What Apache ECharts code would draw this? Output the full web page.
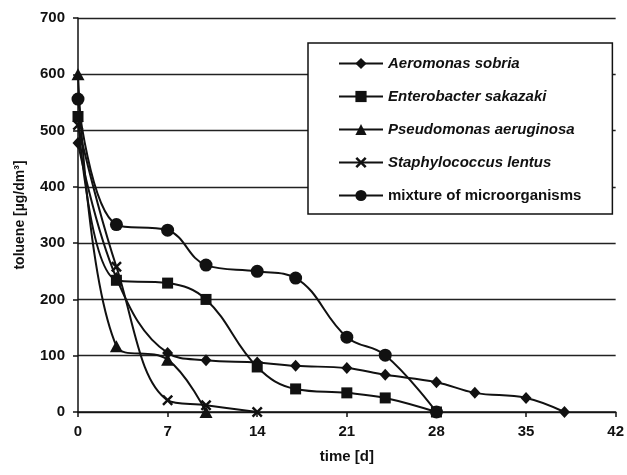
<!DOCTYPE html>
<html>
<head>
<meta charset="utf-8">
<script src="https://cdn.jsdelivr.net/npm/echarts@6/dist/echarts.min.js"></script>
<style>
html,body{margin:0;padding:0;background:#fff;}
#c{width:627px;height:475px;}
</style>
</head>
<body>
<div id="c"></div>
<script>
var xTicks = [0, 7, 14, 21, 28, 35, 42];
var yTicks = [0, 100, 200, 300, 400, 500, 600, 700];

var seriesNames = ['Aeromonas sobria', 'Enterobacter sakazaki', 'Pseudomonas aeruginosa', 'Staphylococcus lentus', 'mixture of microorganisms'];

var aeromonasDays = [0, 3, 7, 10, 14, 17, 21, 24, 28, 31, 35, 38];
var aeromonasVals = [478, 238, 105, 92, 88, 82, 78, 66, 53, 34, 25, 0];

var enterobacterDays = [0, 3, 7, 10, 14, 17, 21, 24, 28];
var enterobacterVals = [525, 234, 229, 200, 80, 41, 34, 25, 0];

var pseudomonasDays = [0, 3, 7, 10];
var pseudomonasVals = [600, 117, 93, 0];

var staphDays = [0, 3, 7, 10, 14];
var staphVals = [510, 258, 21, 12, 0];

var mixtureDays = [0, 3, 7, 10, 14, 17, 21, 24, 28];
var mixtureVals = [556, 333, 323, 261, 250, 238, 133, 101, 0];

function pairs(xs, ys) { return xs.map(function (x, i) { return [x, ys[i]]; }); }

var xPath = 'path://M0,1.6L1.6,0L5,3.4L8.4,0L10,1.6L6.6,5L10,8.4L8.4,10L5,6.6L1.6,10L0,8.4L3.4,5Z';

var symbols = ['diamond', 'rect', 'triangle', xPath, 'circle'];
var sizes = [[11, 12], 11, [13, 12], 11, 13];
var datasets = [
  pairs(aeromonasDays, aeromonasVals),
  pairs(enterobacterDays, enterobacterVals),
  pairs(pseudomonasDays, pseudomonasVals),
  pairs(staphDays, staphVals),
  pairs(mixtureDays, mixtureVals)
];

var series = seriesNames.map(function (n, i) {
  return {
    name: n,
    type: 'line',
    data: datasets[i],
    smooth: 0.4,
    symbol: symbols[i],
    symbolSize: sizes[i],
    showAllSymbol: true,
    lineStyle: { color: '#111', width: 2 },
    itemStyle: { color: '#111', borderWidth: 0 },
    z: 3 + i
  };
});

var FF = 'Liberation Sans, Arial, sans-serif';
var chart = echarts.init(document.getElementById('c'), null, { renderer: 'canvas' });
chart.setOption({
  backgroundColor: '#fff',
  animation: false,
  grid: { left: 78, right: 10, top: 18, bottom: 63, containLabel: false },
  legend: {
    orient: 'vertical',
    left: 308,
    top: 43,
    padding: [13, 31, 11, 30],
    itemGap: 18,
    itemWidth: 44,
    itemHeight: 14,
    borderColor: '#111',
    borderWidth: 1.5,
    backgroundColor: '#fff',
    data: seriesNames,
    formatter: function (n) {
      return n === 'mixture of microorganisms' ? '{n|' + n + '}' : '{i|' + n + '}';
    },
    textStyle: {
      color: '#111',
      fontFamily: FF,
      fontSize: 15,
      fontWeight: 'bold',
      rich: {
        i: { fontStyle: 'italic', fontWeight: 'bold', fontSize: 15, fontFamily: FF, color: '#111' },
        n: { fontStyle: 'normal', fontWeight: 'bold', fontSize: 15, fontFamily: FF, color: '#111' }
      }
    }
  },
  xAxis: {
    type: 'value',
    min: xTicks[0],
    max: xTicks[xTicks.length - 1],
    interval: 7,
    name: 'time [d]',
    nameLocation: 'middle',
    nameGap: 37,
    nameTextStyle: { fontFamily: FF, fontWeight: 'bold', fontSize: 15, color: '#111' },
    axisLine: { lineStyle: { color: '#111', width: 1.5 } },
    axisTick: { show: true, length: 5, inside: false, lineStyle: { color: '#111', width: 1.5 } },
    axisLabel: { fontFamily: FF, fontWeight: 'bold', fontSize: 15, color: '#111', margin: 12 },
    splitLine: { show: false }
  },
  yAxis: {
    type: 'value',
    min: yTicks[0],
    max: yTicks[yTicks.length - 1],
    interval: 100,
    name: 'toluene [µg/dm³]',
    nameLocation: 'middle',
    nameGap: 51,
    nameRotate: 90,
    nameTextStyle: { fontFamily: FF, fontWeight: 'bold', fontSize: 14, color: '#111' },
    axisLine: { show: true, lineStyle: { color: '#111', width: 1.5 } },
    axisTick: { show: true, length: 5, lineStyle: { color: '#111', width: 1.5 } },
    axisLabel: { fontFamily: FF, fontWeight: 'bold', fontSize: 15, color: '#111', margin: 13 },
    splitLine: { show: true, lineStyle: { color: '#222', width: 1.3 } }
  },
  series: series
});
</script>
</body>
</html>
